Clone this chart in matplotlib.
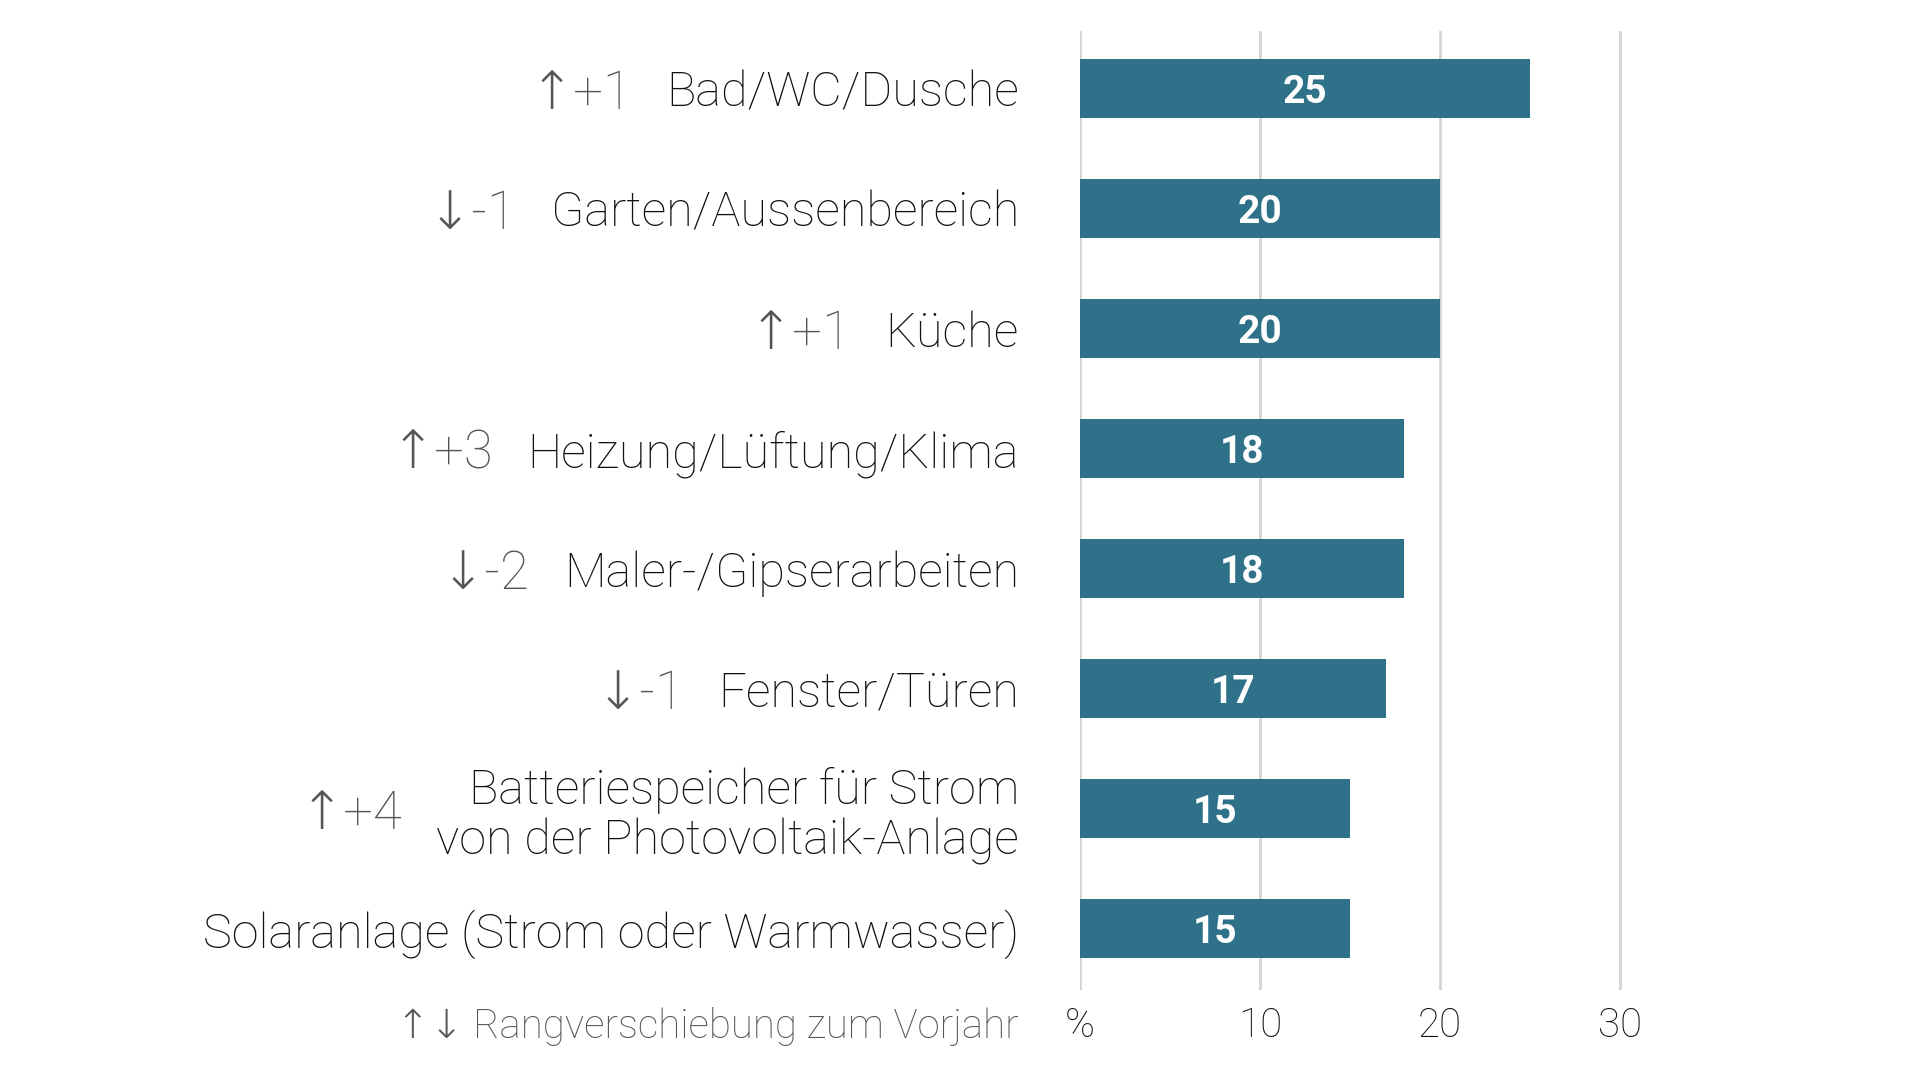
import matplotlib
matplotlib.use("Agg")
import matplotlib.pyplot as plt

# data (top to bottom)
categories = ["Bad/WC/Dusche", "Garten/Aussenbereich", "Küche", "Heizung/Lüftung/Klima",
              "Maler-/Gipserarbeiten", "Fenster/Türen",
              "Batteriespeicher für Strom\nvon der Photovoltaik-Anlage",
              "Solaranlage (Strom oder Warmwasser)"]
values = [25, 20, 20, 18, 18, 17, 15, 15]
rank_shift = ["↑+1", "↓-1", "↑+1", "↑+3", "↓-2", "↓-1", "↑+4", ""]
xticks = [0, 10, 20, 30]
xticklabels = ["%", "10", "20", "30"]

BAR = "#2e7189"
DARK = "#111111"
GREY = "#555555"
FAM = ["Roboto", "DejaVu Sans"]
plt.rcParams["font.family"] = FAM

W, H = 1920, 1080
fig = plt.figure(figsize=(W / 100, H / 100), dpi=100)
x0, x1 = 1080, 1080 + 31 * 18
ytop, ybot = 31, 990
ax = fig.add_axes([x0 / W, 1 - ybot / H, (x1 - x0) / W, (ybot - ytop) / H])

pos = list(range(len(values)))
ax.barh(pos, values, height=0.49, color=BAR, zorder=2)
for p, v in zip(pos, values):
    ax.text(v / 2, p, str(v), ha="center", va="center_baseline", color="white",
            fontsize=28, fontweight="bold", zorder=3)

ax.set_xlim(0, 31)
ax.set_ylim(len(values) - 0.49, -0.48)
for t in xticks:
    ax.axvline(t, color="#d4d4d4", lw=2, zorder=1)
for s in ax.spines.values():
    s.set_visible(False)

ax.set_yticks(pos)
ax.set_yticklabels(categories, fontsize=35, fontweight="light", color=DARK,
                   linespacing=1.1)
ax.tick_params(axis="y", length=0, pad=44)
ax.set_xticks(xticks)
ax.set_xticklabels(xticklabels, fontsize=29, fontweight="light", color=DARK)
ax.tick_params(axis="x", length=0, pad=12)

# legend note at the x-axis level
ax.annotate("↑↓ Rangverschiebung zum Vorjahr", xy=(-61 / 18, 0),
            xycoords=ax.get_xaxis_transform(), xytext=(0, -12),
            textcoords="offset points", ha="right", va="top",
            fontsize=29, fontweight="light", color=GREY)

# rank shifts placed left of each label
fig.canvas.draw()
r = fig.canvas.get_renderer()
for lab, txt, p in zip(ax.get_yticklabels(), rank_shift, pos):
    if not txt:
        continue
    bb = lab.get_window_extent(r)
    xa = ax.transData.inverted().transform((bb.x0 - 34, 0))[0]
    ax.text(xa, p, txt, ha="right", va="center_baseline", fontsize=38,
            fontweight="light", color=GREY, clip_on=False)

fig.savefig("out.png", dpi=100)
